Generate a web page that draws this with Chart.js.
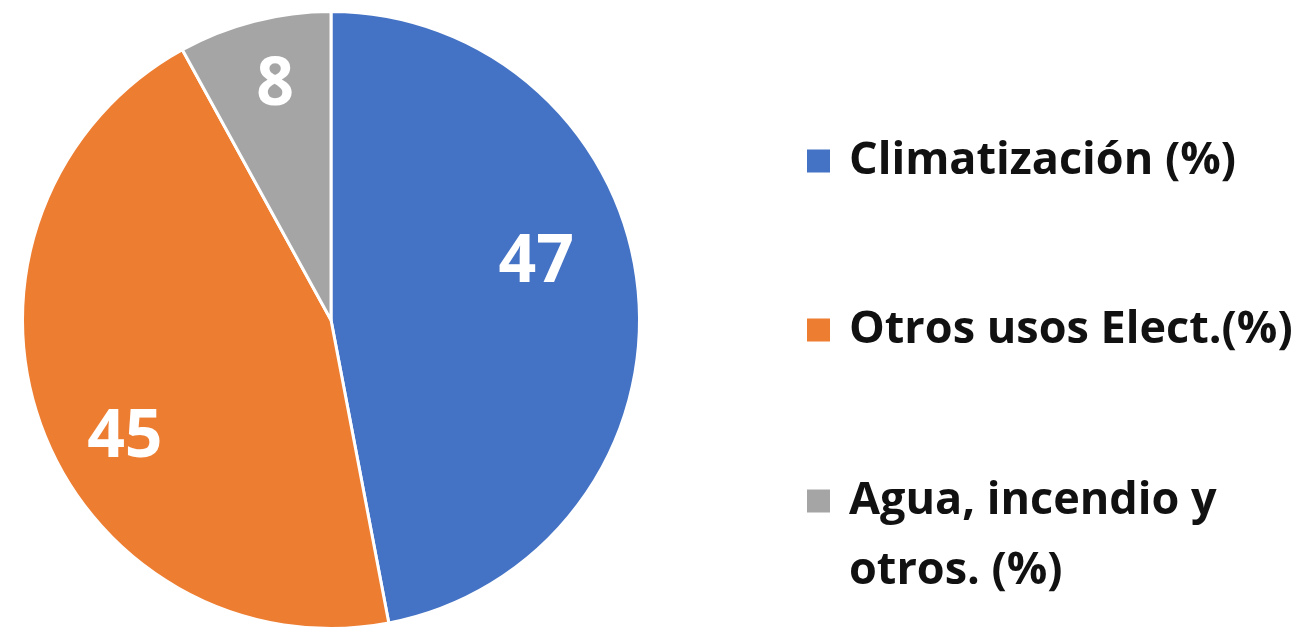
<!DOCTYPE html>
<html>
<head>
<meta charset="utf-8">
<script src="https://cdn.jsdelivr.net/npm/chart.js@4/dist/chart.umd.min.js"></script>
<style>
  html, body { margin: 0; padding: 0; background: #fff; }
  #wrap { width: 1307px; height: 630px; position: relative; }
</style>
</head>
<body>
<div id="wrap"><canvas id="pie"></canvas></div>
<script>
// Reparto del consumo eléctrico
const categories = ['Climatización (%)', 'Otros usos Elect.(%)', ['Agua, incendio y', 'otros. (%)']];
const shares = [47, 45, 8];
const colors = ['#4472C4', '#ED7D31', '#A5A5A5'];

const FONT = '"Open Sans", "Noto Sans", sans-serif';

// white value labels inside each slice
const sliceLabels = {
    id: 'sliceLabels',
    afterDatasetsDraw(chart, args, opts) {
        const { ctx } = chart;
        const meta = chart.getDatasetMeta(0);
        ctx.save();
        ctx.fillStyle = '#fff';
        ctx.font = `bold ${opts.size}px ${FONT}`;
        ctx.textAlign = 'center';
        ctx.textBaseline = 'middle';
        meta.data.forEach((arc, i) => {
            const mid = (arc.startAngle + arc.endAngle) / 2 + (opts.turn[i] || 0) * Math.PI / 180;
            const r = arc.outerRadius * opts.dist[i];
            ctx.fillText(String(chart.data.datasets[0].data[i]), arc.x + Math.cos(mid) * r, arc.y + Math.sin(mid) * r);
        });
        ctx.restore();
    }
};

// legend on the right, square swatch + bold text, multi-line allowed
const sideLegend = {
    id: 'sideLegend',
    afterDraw(chart, args, opts) {
        const { ctx } = chart;
        ctx.save();
        ctx.font = `bold ${opts.size}px ${FONT}`;
        ctx.textBaseline = 'middle';
        chart.data.labels.forEach((lab, i) => {
            const lines = Array.isArray(lab) ? lab : [lab];
            const y = opts.rows[i];
            ctx.fillStyle = colors[i];
            ctx.fillRect(opts.x, y - opts.box / 2, opts.box, opts.box);
            ctx.fillStyle = '#111';
            lines.forEach((t, k) => ctx.fillText(t, opts.x + opts.gap, y + k * opts.lineHeight));
        });
        ctx.restore();
    }
};

new Chart(document.getElementById('pie'), {
    type: 'pie',
    data: {
        labels: categories,
        datasets: [{
            data: shares,
            backgroundColor: colors,
            borderColor: '#fff',
            borderWidth: 3
        }]
    },
    options: {
        responsive: true,
        maintainAspectRatio: false,
        animation: false,
        layout: { padding: { left: 21, right: 666, top: 10, bottom: 0 } },
        plugins: {
            legend: { display: false },
            tooltip: { enabled: false },
            sliceLabels: { size: 66, turn: [-10, -10, 1], dist: [0.69, 0.77, 0.78] },
            sideLegend: { size: 45, x: 807, gap: 42, box: 23, rows: [161, 330, 501], lineHeight: 70 }
        }
    },
    plugins: [sliceLabels, sideLegend]
});
</script>
</body>
</html>
